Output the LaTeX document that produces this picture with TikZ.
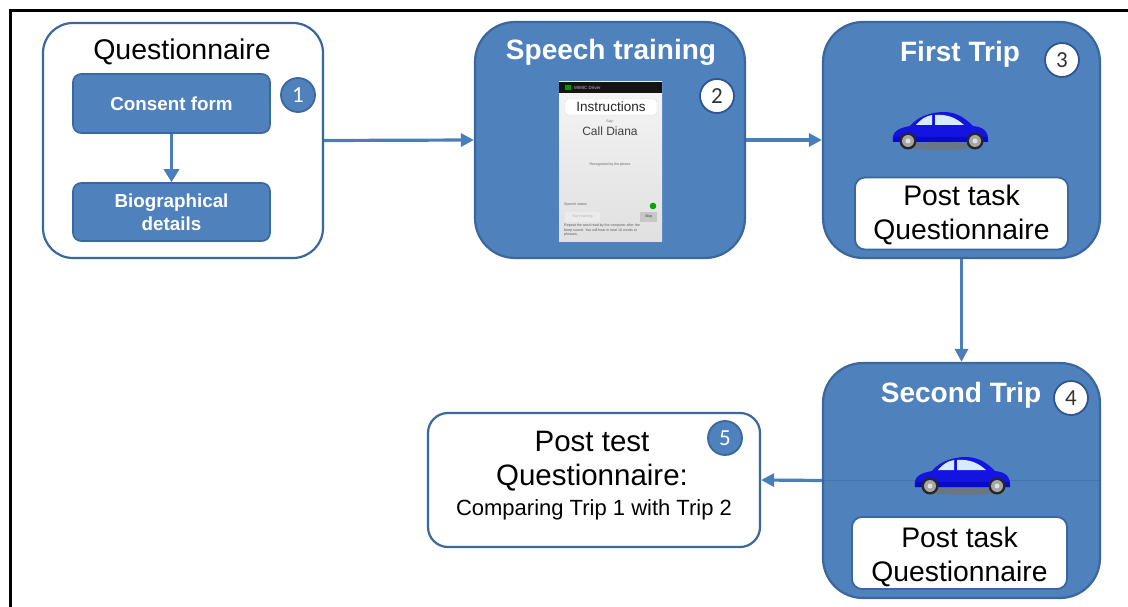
\documentclass[tikz,border=0pt]{standalone}
\usepackage{fontspec}
\setmainfont{Liberation Sans}
\newfontfamily\digitfont{Carlito}
\usetikzlibrary{arrows.meta}
\definecolor{boxblue}{HTML}{4F81BD}
\definecolor{boxedge}{HTML}{3A679C}
\definecolor{flowblue}{HTML}{4A7EBB}
\definecolor{carbody}{HTML}{1414E0}
\definecolor{glass}{HTML}{D6EBFF}
\definecolor{ringdark}{HTML}{2F5590}

\tikzset{
  whitepanel/.style={rectangle, draw=boxedge, fill=white, line width=2.2pt, inner sep=0pt},
  bluepanel/.style={rectangle, draw=boxedge, fill=boxblue, line width=2.2pt, inner sep=0pt},
  stepbox/.style={rectangle, draw=boxedge, fill=boxblue, line width=1.6pt, rounded corners=8pt,
    minimum width=197pt, inner sep=0pt, text=white, align=center,
    font=\bfseries\fontsize{18.8}{23}\selectfont},
  answerbox/.style={rectangle, draw=boxedge, fill=white, line width=1.8pt, rounded corners=10pt,
    inner sep=0pt, minimum width=213pt, minimum height=72pt},
  darktitle/.style={anchor=base, font=\fontsize{28.5}{32}\selectfont},
  lighttitle/.style={anchor=base, text=white, font=\bfseries\fontsize{28}{32}\selectfont},
  bodytext/.style={anchor=base, align=center, font=\fontsize{28.3}{34}\selectfont},
  numblue/.style={circle, draw=boxedge, fill=boxblue, line width=1.8pt, minimum size=34pt,
    inner sep=0pt, text=white, font=\digitfont\fontsize{23}{23}\selectfont},
  numwhite/.style={circle, draw=ringdark, fill=white, line width=1.8pt, minimum size=34pt,
    inner sep=0pt, text=black!80, font=\digitfont\fontsize{23}{23}\selectfont},
  flow/.style={draw=flowblue, line width=3.2pt, -{Triangle[length=13pt,width=13pt]}},
  tiny/.style={inner sep=0pt, font=\fontsize{3.6}{4.4}\selectfont},
  beetle/.pic={
    % shadow under the car
    \fill[black!55, opacity=0.75] (3,15) ellipse[x radius=38, y radius=4];
    % body
    \fill[carbody] (-47,11) .. controls (-49,1) and (-42,-3) .. (-30,-5)
      .. controls (-22,-15) and (-8,-19) .. (4,-19)
      .. controls (18,-19) and (27,-11) .. (33,-5)
      .. controls (43,-4) and (49,0) .. (48,11) -- cycle;
    \fill[blue!70!black, opacity=0.5] (-47,11) -- (48,11) -- (47,6) -- (-46,6) -- cycle;
    % windows
    \fill[glass] (-24,-6) .. controls (-19,-12) and (-14,-15) .. (-8,-16) -- (-8,-6) -- cycle;
    \fill[glass] (-5,-16) .. controls (8,-17) and (16,-13) .. (24,-6) -- (-5,-6) -- cycle;
    % wheels
    \foreach \wx in {-32,35} {
      \fill[black!85] (\wx,10) circle[radius=8.5];
      \fill[black!35] (\wx,10) circle[radius=6];
      \fill[black!12] (\wx,10) circle[radius=2.5];
    }
  }
}

\begin{document}
\begin{tikzpicture}[x=1pt,y=-1pt]
\useasboundingbox (0,0) rectangle (1128,607);

% frame
\draw[line width=3.5pt] (10.5,607) -- (10.5,10.5) -- (1128,10.5);

% ---- step 1: questionnaire
\node[whitepanel, rounded corners=30pt, minimum width=280pt, minimum height=235pt] (q) at (183,140.5) {};
\node[darktitle] (qt) at (182,60) {Questionnaire};
\node[stepbox, minimum height=59pt] (cf) at (171.5,103.5) {Consent form};
\node[stepbox, minimum height=58pt] (bio) at (171.5,212) {Biographical\\details};
\node[numblue] (n1) at (298,95) {1};
\draw[draw=flowblue, line width=3.5pt, -{Triangle[length=13pt,width=15pt]}] (cf) -- (bio);

% ---- step 2: speech training
\node[bluepanel, rounded corners=40pt, minimum width=270pt, minimum height=236pt] (st) at (610,140) {};
\node[lighttitle] (stt) at (611,60) {Speech training};
\node[numwhite] (n2) at (717,96) {2};

% phone screen
\shade[top color=white!96!black, bottom color=white!88!black] (559,82) rectangle (662,241);
\fill[black!92] (559,82) rectangle (662,93);
\fill[green!60!black] (565,85.5) rectangle (571,90);
\node[tiny, anchor=west, text=white!75!black, font=\fontsize{4.5}{5}\selectfont] (appname) at (574,88) {MIMIC Driver};
\fill[white] (565,99) [rounded corners=3pt] rectangle (657,115);
\draw[black!15, line width=0.4pt, rounded corners=3pt] (565,99) rectangle (657,115);
\node[inner sep=0pt, text=black!85, font=\fontsize{13.5}{14}\selectfont] (instr) at (611,107) {Instructions};
\node[tiny, text=black!60] (say) at (610,122) {Say:};
\node[inner sep=0pt, text=black!75, font=\fontsize{12}{12}\selectfont] (calld) at (610,131) {Call Diana};
\node[tiny, text=black!60] (recog) at (610,165) {Recognised by the phone};
\node[tiny, anchor=west, text=black!60] (status) at (564,205) {Speech status};
\fill[green!65!black] (653,206) circle[radius=3.3];
\fill[black!8] (565,212) rectangle (600,222);
\node[tiny, text=black!30] (startb) at (582.5,217) {Start training};
\fill[black!22] (640,212) rectangle (657,222);
\node[tiny, text=black!75] (skip) at (648.5,217) {Skip};
\node[tiny, anchor=north west, align=left, text=black!65] (hint) at (564,224)
  {Repeat the word read by the computer after the\\beep sound. You will hear in total 10 words or\\phrases.};

% ---- step 3: first trip
\node[bluepanel, rounded corners=40pt, minimum width=277pt, minimum height=236pt] (t1) at (961.5,140) {};
\node[lighttitle] (t1t) at (960,62) {First Trip};
\node[numwhite] (n3) at (1062,60) {3};
\pic at (940,131) {beetle};
\node[answerbox] (pq1) at (961.5,213.5) {};
\node[bodytext] (pq1t) at (961.5,240) {Post task\\Questionnaire};

% ---- step 4: second trip
\node[bluepanel, rounded corners=40pt, minimum width=277pt, minimum height=235pt] (t2) at (961.5,480.5) {};
\draw[boxedge!85!black, line width=1.6pt, opacity=0.3] (t2.west) -- (t2.east);
\node[lighttitle] (t2t) at (961,402) {Second Trip};
\node[numwhite] (n4) at (1071,398) {4};
\pic at (962,476) {beetle};
\node[answerbox, minimum width=215pt] (pq2) at (959.5,553) {};
\node[bodytext] (pq2t) at (959.5,581) {Post task\\Questionnaire};

% ---- step 5: post test
\node[whitepanel, rounded corners=20pt, minimum width=332pt, minimum height=134pt] (pt) at (594,480) {};
\node[anchor=base, align=center, font=\fontsize{29.5}{34}\selectfont] (ptt) at (592,485) {Post test\\Questionnaire:};
\node[anchor=base, font=\fontsize{22}{24}\selectfont] (ptc) at (594,515) {Comparing Trip 1 with Trip 2};
\node[numblue] (n5) at (725,438) {5};

% ---- flow between the steps
\draw[flow] (q.east) -- (st.west);
\draw[flow] (st.east) -- (t1.west);
\draw[flow] (t1.south) -- (t2.north);
\draw[flow] (t2.west) -- (pt.east);

\end{tikzpicture}
\end{document}
